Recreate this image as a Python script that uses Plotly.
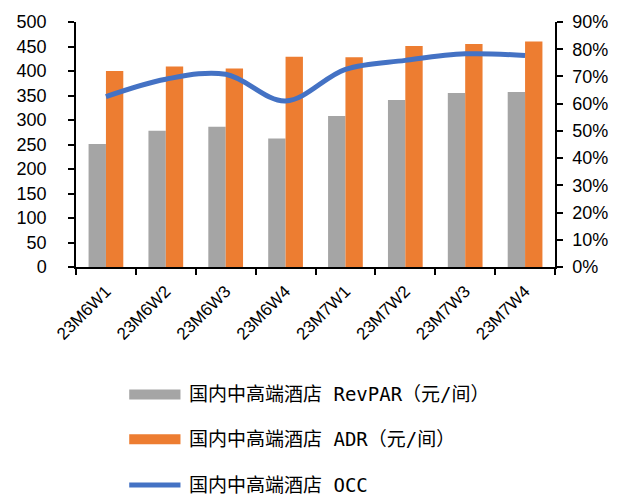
import plotly.graph_objects as go

# Weekly data for domestic mid-to-high-end hotels
weeks = ["23M6W1", "23M6W2", "23M6W3", "23M6W4", "23M7W1", "23M7W2", "23M7W3", "23M7W4"]
revpar = [251, 278, 286, 262, 308, 341, 355, 357]
adr = [400, 409, 405, 429, 428, 451, 455, 460]
occ = [0.626, 0.690, 0.708, 0.610, 0.726, 0.759, 0.783, 0.777]

legend_labels = [
    "国内中高端酒店 RevPAR（元/间）",
    "国内中高端酒店 ADR（元/间）",
    "国内中高端酒店 OCC",
]

GRAY = "#A5A5A5"
ORANGE = "#ED7D31"
BLUE = "#4472C4"

W, H = 620, 500
L, R, T, B = 76, 58, 21, 233
PW, PH = W - L - R, H - T - B


def px_x(x):
    return (x - L) / PW


def px_y(y):
    return (H - B - y) / PH


fig = go.Figure()
fig.add_trace(go.Bar(x=weeks, y=revpar, name=legend_labels[0], marker_color=GRAY,
                     marker_line_width=0, showlegend=False))
fig.add_trace(go.Bar(x=weeks, y=adr, name=legend_labels[1], marker_color=ORANGE,
                     marker_line_width=0, showlegend=False))
fig.add_trace(go.Scatter(x=weeks, y=occ, name=legend_labels[2], yaxis="y2", mode="lines",
                         line=dict(color=BLUE, width=5, shape="spline", smoothing=1.0),
                         showlegend=False))

tick_font = dict(family="Liberation Sans, Arial, sans-serif", size=18, color="#000000")

fig.update_layout(
    width=W, height=H,
    margin=dict(l=L, r=R, t=T, b=B, pad=0),
    plot_bgcolor="white", paper_bgcolor="white",
    barmode="group", bargap=0.42, bargroupgap=0,
    xaxis=dict(
        type="category", range=[-0.5, 7.5], showline=True, linecolor="black", linewidth=1.5,
        ticks="outside", tickson="boundaries", ticklen=6, tickcolor="black", tickwidth=1.5,
        tickangle=-45, ticklabelstandoff=6,
        tickfont=dict(family="Liberation Sans, Arial, sans-serif", size=17, color="#000000"),
        showgrid=False, zeroline=False,
    ),
    yaxis=dict(
        range=[0, 500], dtick=50, showline=True, linecolor="black", linewidth=1.5,
        ticks="outside", ticklen=6, tickcolor="black", tickwidth=1.5, ticklabelstandoff=18,
        tickfont=tick_font, showgrid=False, zeroline=False,
    ),
    yaxis2=dict(
        range=[0, 0.9], dtick=0.1, tickformat=".0%", overlaying="y", side="right",
        showline=True, linecolor="black", linewidth=1.5,
        ticks="outside", ticklen=6, tickcolor="black", tickwidth=1.5, ticklabelstandoff=6,
        tickfont=tick_font, showgrid=False, zeroline=False,
    ),
)

# Legend drawn below the chart with wide swatches
legend_font = dict(family="DejaVu Sans Mono, Noto Sans CJK SC, monospace", size=19,
                   color="#000000")
rows_y = [395, 440, 486]
shapes = []
annotations = []
for i, (label, yc) in enumerate(zip(legend_labels, rows_y)):
    if i < 2:
        shapes.append(dict(type="rect", xref="paper", yref="paper",
                           x0=px_x(130), x1=px_x(182), y0=px_y(yc - 5), y1=px_y(yc + 5),
                           fillcolor=[GRAY, ORANGE][i], line=dict(width=0)))
    else:
        shapes.append(dict(type="line", xref="paper", yref="paper",
                           x0=px_x(130), x1=px_x(182), y0=px_y(yc), y1=px_y(yc),
                           line=dict(color=BLUE, width=5)))
    annotations.append(dict(text=label, xref="paper", yref="paper", x=px_x(189), y=px_y(yc),
                            xanchor="left", yanchor="middle", showarrow=False,
                            font=legend_font))

fig.update_layout(shapes=shapes, annotations=annotations)

fig.write_html("out.html")
